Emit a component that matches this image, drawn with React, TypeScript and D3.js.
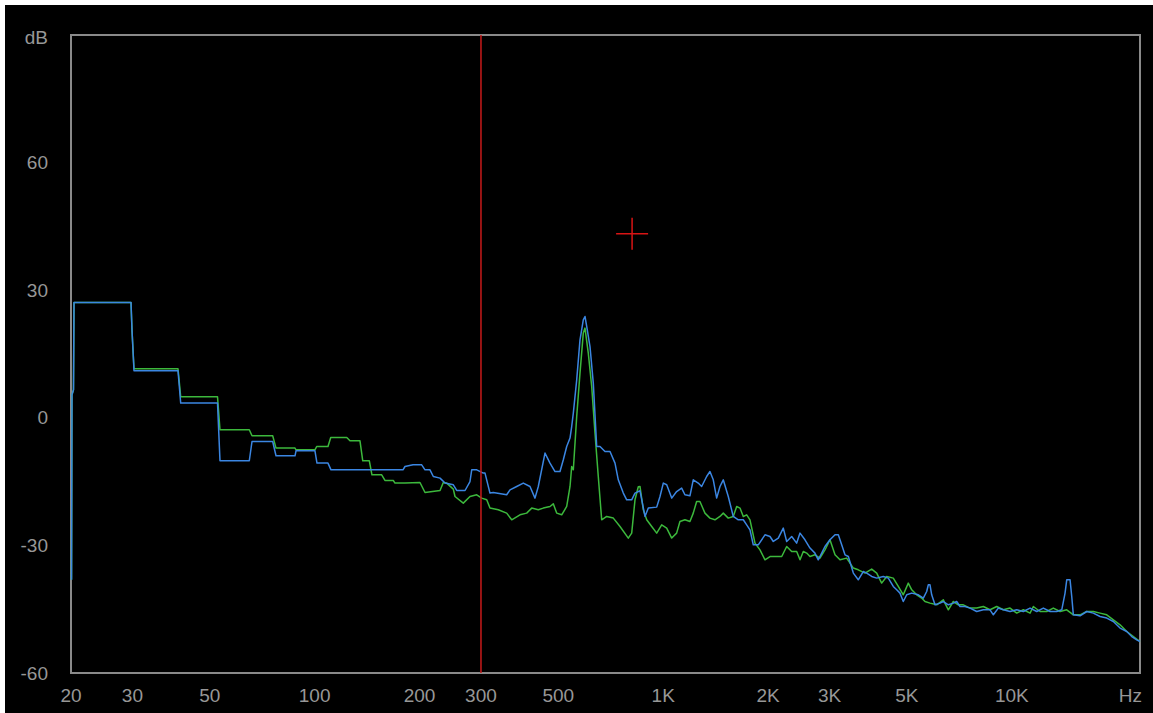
import React from "react";
import * as d3 from "d3";

// ---- axis data ----
const xTickValues = [20, 30, 50, 100, 200, 300, 500, 1000, 2000, 3000, 5000, 10000];
const xTickLabels = ["20", "30", "50", "100", "200", "300", "500", "1K", "2K", "3K", "5K", "10K"];
const yTickValues = [60, 30, 0, -30, -60];
const xUnit = "Hz";
const yUnit = "dB";
const freqDomain: [number, number] = [20, 23316];
const dbDomain: [number, number] = [-60, 90];

// cursor / marker
const cursorFreq = 300;
const markerFreq = 814;
const markerDb = 43.3;

// ---- series: [frequency Hz, level dB] ----
const blueSeries: [number, number][] = [
  [20.07, -38.1], [20.13, 5.4], [20.33, 6.6], [20.4, 27.1], [29.73, 27.1], [29.92, 20.7], [30.12, 16.0],
  [30.32, 11.05], [40.55, 11.05], [41.28, 3.46], [52.64, 3.46], [53.51, -10.1], [64.94, -10.1],
  [66.11, -5.57], [75.79, -5.57], [77.47, -8.93], [87.83, -8.93], [88.41, -7.76], [100.2, -7.76],
  [101.55, -10.65], [109.2, -10.65], [111.4, -12.23], [179.2, -12.23], [181.6, -11.45], [191.5, -11.05],
  [202.8, -11.05], [207.3, -12.23], [214.2, -12.23], [219.0, -13.8], [228.9, -14.18], [236.6, -15.35],
  [249.9, -15.75], [255.6, -17.09], [270.0, -17.09], [279.0, -14.98], [282.2, -12.23], [291.7, -12.23],
  [304.7, -13.0], [308.1, -13.0], [318.4, -17.7], [325.4, -17.56], [355.5, -18.1], [363.4, -16.93],
  [379.8, -16.15], [396.8, -15.35], [414.7, -16.15], [428.6, -18.88], [438.1, -16.15], [457.9, -8.3],
  [473.3, -10.65], [489.2, -12.63], [505.6, -12.63], [516.8, -9.87], [528.5, -6.75], [540.2, -4.77],
  [546.2, -2.05], [552.1, 1.1], [564.6, 8.93], [577.0, 18.34], [589.7, 23.04], [596.4, 23.82],
  [603.1, 21.47], [616.4, 16.76], [630.0, 8.16], [644.3, -6.75], [658.5, -6.75], [680.6, -7.92],
  [703.5, -7.92], [727.1, -10.65], [743.1, -14.58], [768.1, -17.7], [785.5, -19.28], [811.9, -19.28],
  [829.8, -17.7], [857.7, -17.16], [886.4, -23.2], [906.0, -21.23], [957.7, -21.0], [978.8, -18.5],
  [1000.4, -15.35], [1023.1, -15.75], [1057.5, -18.88], [1092.4, -17.33], [1129.2, -16.53], [1154, -18.1],
  [1192.8, -18.34], [1219.2, -14.58], [1260.1, -15.35], [1288.7, -16.15], [1332, -13.8], [1361.4, -12.63],
  [1391.5, -14.58], [1423, -18.88], [1454.5, -16.15], [1486.6, -14.58], [1536.6, -18.5], [1588.2, -23.2],
  [1641.6, -23.98], [1696.7, -23.98], [1735.2, -25.16], [1773.4, -26.33], [1812.6, -29.86], [1873.4, -29.86],
  [1958.2, -27.51], [2024, -27.91], [2068.6, -29.08], [2138, -28.28], [2210, -25.93], [2260, -29.08],
  [2336, -27.91], [2414, -29.46], [2468, -27.11], [2550, -28.68], [2636, -30.63], [2724, -31.81],
  [2784, -33.39], [2848, -31.81], [2910, -30.26], [3008, -28.68], [3110, -27.51], [3178, -27.51],
  [3250, -29.86], [3322, -32.21], [3396, -32.61], [3510, -36.51], [3626, -38.09], [3748, -36.14],
  [3834, -36.51], [3962, -37.31], [4096, -37.69], [4278, -37.31], [4422, -37.69], [4570, -39.66],
  [4674, -40.44], [4776, -41.22], [4882, -43.19], [4994, -41.61], [5162, -41.22], [5392, -41.61],
  [5572, -42.39], [5698, -40.84], [5760, -39.26], [5824, -39.26], [5890, -41.61], [6020, -43.97],
  [6222, -43.57], [6360, -43.19], [6574, -43.97], [6794, -43.57], [6948, -43.19], [7102, -44.37],
  [7340, -44.37], [7588, -44.74], [7930, -45.54], [8284, -45.14], [8658, -45.14], [8850, -46.32],
  [9146, -44.74], [9454, -45.14], [9882, -45.54], [10328, -45.14], [10788, -45.54], [11278, -44.74],
  [11788, -45.54], [12314, -44.74], [12872, -45.54], [13454, -45.54], [13906, -45.14], [14212, -41.22],
  [14372, -38.09], [14690, -38.09], [14854, -42.01], [15012, -46.32], [15692, -46.55], [16402, -45.54],
  [17134, -45.92], [17908, -46.71], [18718, -47.09], [19552, -47.89], [20438, -49.44], [21364, -50.24],
  [22082, -51.42], [22822, -52.2], [23316, -52.6],
];

const greenSeries: [number, number][] = [
  [20.07, -38.1], [20.13, 5.4], [20.33, 6.6], [20.4, 27.1], [29.73, 27.1], [29.92, 20.7], [30.12, 16.0],
  [30.32, 11.52], [40.55, 11.52], [41.28, 4.94], [52.64, 4.94], [53.51, -2.82], [64.94, -2.82],
  [66.11, -4.23], [75.79, -4.23], [77.47, -7.12], [87.83, -7.12], [88.41, -7.52], [100.2, -7.52],
  [101.35, -6.75], [109.2, -6.75], [111.2, -4.63], [123.6, -4.63], [126.3, -5.41], [134.9, -5.41],
  [137.4, -10.11], [143.5, -10.11], [146.0, -13.4], [155.7, -13.4], [159.1, -14.74], [168.1, -14.74],
  [170.0, -15.35], [181.6, -15.35], [200.5, -15.21], [207.3, -17.56], [228.9, -17.09], [233.9, -15.21],
  [239.2, -15.35], [249.9, -16.76], [252.7, -18.5], [266.9, -20.06], [279.0, -18.5], [291.7, -18.1],
  [301.4, -18.88], [311.6, -19.28], [318.4, -21.23], [336.3, -21.63], [355.5, -22.41], [367.5, -23.98],
  [388.2, -22.81], [405.7, -22.41], [419.4, -21.23], [438.1, -21.63], [452.8, -21.23], [473.3, -20.85],
  [483.7, -20.22], [494.7, -22.41], [511.3, -22.81], [528.5, -20.85], [540.2, -16.15], [546.2, -11.45],
  [552.1, -12.23], [564.6, 0.31], [577.0, 10.51], [589.7, 19.91], [596.4, 21.09], [609.5, 15.21],
  [623.4, 7.36], [637.1, -3.6], [651.1, -13.8], [665.9, -23.98], [688.2, -23.2], [719.0, -23.58],
  [751.5, -25.56], [793.9, -28.28], [811.9, -27.11], [829.8, -19.28], [848.1, -16.22], [857.7, -16.15],
  [876.6, -21.63], [896.5, -23.98], [926.6, -25.56], [957.7, -27.11], [989.8, -25.16], [1023.1, -25.93],
  [1057.5, -28.28], [1092.4, -27.11], [1116.6, -24.38], [1154, -23.98], [1192.8, -24.38], [1219.2, -22.41],
  [1246.8, -19.68], [1274.2, -19.68], [1317.2, -22.41], [1361.4, -23.58], [1407.2, -23.98], [1454.5, -23.2],
  [1486.6, -22.41], [1536.6, -23.58], [1588.2, -23.2], [1624.4, -20.85], [1660.4, -21.23], [1696.7, -23.2],
  [1735.2, -22.81], [1773.4, -23.98], [1833, -29.46], [1894.6, -31.04], [1958.2, -33.39], [2024, -32.61],
  [2116, -32.61], [2187, -32.61], [2260, -30.26], [2336, -31.43], [2414, -31.43], [2468, -33.39],
  [2522, -31.43], [2579, -31.81], [2636, -32.61], [2724, -32.21], [2816, -32.99], [2910, -31.04],
  [3008, -28.68], [3110, -32.21], [3214, -33.39], [3359, -32.99], [3510, -35.33], [3626, -35.74],
  [3791, -36.51], [3962, -35.57], [4096, -36.51], [4232, -38.86], [4376, -37.31], [4570, -37.69],
  [4724, -39.66], [4882, -41.61], [5046, -38.86], [5162, -40.44], [5334, -41.61], [5512, -42.39],
  [5634, -43.19], [5824, -43.57], [6088, -43.97], [6360, -42.79], [6574, -45.14], [6794, -43.19],
  [7022, -43.97], [7258, -43.97], [7588, -44.74], [7930, -44.74], [8284, -44.37], [8658, -45.14],
  [9050, -44.37], [9454, -45.14], [9882, -44.74], [10328, -45.92], [10788, -45.14], [11278, -45.92],
  [11526, -44.37], [12046, -45.54], [12592, -45.54], [13154, -44.74], [13750, -45.54], [14372, -45.14],
  [15012, -46.32], [15692, -46.32], [16402, -45.54], [17134, -45.54], [17908, -45.92], [18718, -46.32],
  [19552, -47.49], [20438, -48.67], [21364, -50.24], [22318, -51.42], [23316, -52.6],
];

const FONT = "'Liberation Sans', Arial, sans-serif";

export default function App() {
  const W = 1153;
  const H = 713;
  const plotLeft = 71;
  const plotRight = 1140;
  const plotTop = 35;
  const plotBottom = 673;

  const x = d3.scaleLog().domain(freqDomain).range([plotLeft, plotRight]);
  const y = d3.scaleLinear().domain(dbDomain).range([plotBottom, plotTop]);
  const line = d3
    .line<[number, number]>()
    .x((d) => x(d[0]))
    .y((d) => y(d[1]));

  const mx = x(markerFreq);
  const my = y(markerDb);
  const arm = 16;
  const labelColor = "#979797";

  return (
    <div style={{ position: "absolute", left: 0, top: 0, width: W, height: H }}>
      <svg width={W} height={H} style={{ display: "block" }}>
        <rect x={0} y={0} width={W} height={H} fill="#ffffff" />
        <rect x={5} y={5} width={W - 5} height={H - 5} fill="#000000" />

        <rect
          x={plotLeft}
          y={plotTop}
          width={plotRight - plotLeft}
          height={plotBottom - plotTop}
          fill="none"
          stroke="#8a8a8a"
          strokeWidth={2}
        />

        <path d={line(greenSeries) || ""} fill="none" stroke="#3cb83c" strokeWidth={1.5} strokeLinejoin="round" />
        <path d={line(blueSeries) || ""} fill="none" stroke="#3b86e2" strokeWidth={1.5} strokeLinejoin="round" />

        <line
          x1={x(cursorFreq)}
          x2={x(cursorFreq)}
          y1={plotTop}
          y2={plotBottom}
          stroke="#c81a1a"
          strokeWidth={1.5}
        />

        <line x1={mx - arm} x2={mx + arm} y1={my} y2={my} stroke="#d81414" strokeWidth={1.5} />
        <line x1={mx} x2={mx} y1={my - arm} y2={my + arm} stroke="#d81414" strokeWidth={1.5} />

        {xTickValues.map((v, i) => (
          <text
            key={"x" + v}
            x={x(v)}
            y={702}
            textAnchor="middle"
            fontFamily={FONT}
            fontSize={19}
            fill={labelColor}
          >
            {xTickLabels[i]}
          </text>
        ))}
        <text x={1142} y={702} textAnchor="end" fontFamily={FONT} fontSize={19} fill={labelColor}>
          {xUnit}
        </text>

        {yTickValues.map((v) => (
          <text
            key={"y" + v}
            x={48}
            y={y(v)}
            dy="0.35em"
            textAnchor="end"
            fontFamily={FONT}
            fontSize={19}
            fill={labelColor}
          >
            {v}
          </text>
        ))}
        <text x={48} y={37} dy="0.35em" textAnchor="end" fontFamily={FONT} fontSize={19} fill={labelColor}>
          {yUnit}
        </text>
      </svg>
    </div>
  );
}
